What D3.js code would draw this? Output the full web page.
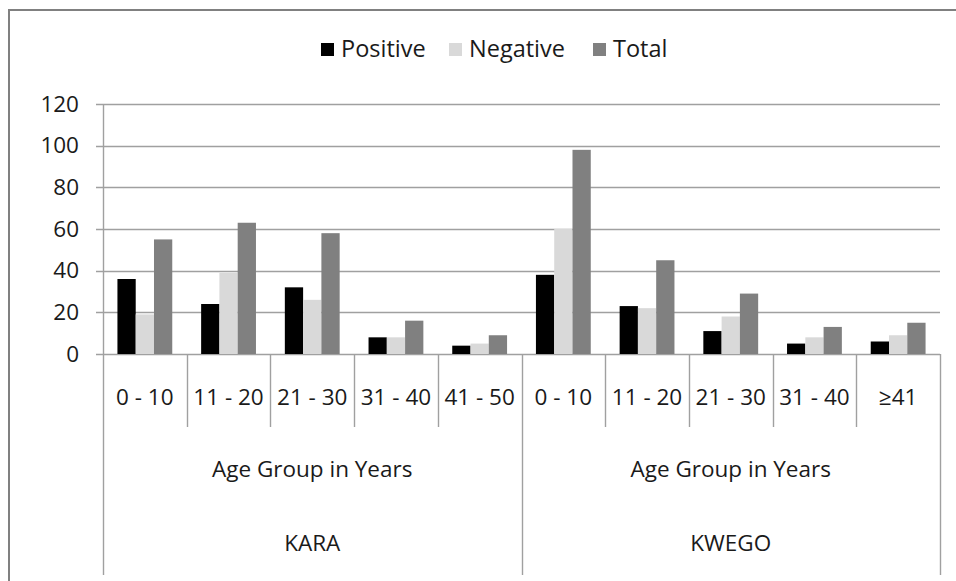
<!DOCTYPE html>
<html>
<head>
<meta charset="utf-8">
<script src="https://cdn.jsdelivr.net/npm/d3@7"></script>
<style>
  body { margin: 0; background: #fff; }
  text { font-family: "Open Sans", sans-serif; fill: #1a1a1a; }
</style>
</head>
<body>
<svg id="chart" width="956" height="581"></svg>
<script>
// values
const sites = ["KARA", "KWEGO"];
const ageGroups = [
  ["0 - 10", "11 - 20", "21 - 30", "31 - 40", "41 - 50"],
  ["0 - 10", "11 - 20", "21 - 30", "31 - 40", "≥41"]
];
const seriesNames = ["Positive", "Negative", "Total"];
const positive = [36, 24, 32, 8, 4, 38, 23, 11, 5, 6];
const negative = [19, 39, 26, 8, 5, 60, 22, 18, 8, 9];
const total = [55, 63, 58, 16, 9, 98, 45, 29, 13, 15];
const yTicks = [0, 20, 40, 60, 80, 100, 120];
const colors = ["#000000", "#d9d9d9", "#808080"];

// one row per category, built from the arrays above
const rows = [];
sites.forEach((site, s) => {
  ageGroups[s].forEach((age, a) => {
    const i = rows.length;
    rows.push({ id: i, site: site, age: age, values: [positive[i], negative[i], total[i]] });
  });
});

const plot = { left: 103, right: 940, top: 104, bottom: 354 };
const fontSize = 22.5;
const svg = d3.select("#chart");

// chart frame (cropped on right and bottom like the source image)
svg.append("rect")
  .attr("x", 9).attr("y", 10)
  .attr("width", 1000).attr("height", 1000)
  .attr("fill", "none")
  .attr("stroke", "#808080")
  .attr("stroke-width", 2);

const x = d3.scaleBand()
  .domain(rows.map((d) => d.id))
  .range([plot.left, plot.right])
  .padding(0);

const x1 = d3.scaleBand()
  .domain(seriesNames)
  .range([0, x.bandwidth()])
  .paddingInner(0)
  .paddingOuter(0.79);

const y = d3.scaleLinear().domain([0, 120]).range([plot.bottom, plot.top]);

// gridlines
svg.append("g")
  .selectAll("line")
  .data(yTicks)
  .join("line")
  .attr("x1", plot.left - 7)
  .attr("x2", plot.right)
  .attr("y1", (d) => Math.round(y(d)) + 0.5)
  .attr("y2", (d) => Math.round(y(d)) + 0.5)
  .attr("stroke", "#a0a0a0")
  .attr("stroke-width", 1.4);

// y axis labels
const yAxis = d3.axisLeft(y).tickValues(yTicks).tickSize(0).tickPadding(24);
const gy = svg.append("g")
  .attr("transform", `translate(${plot.left},0)`)
  .call(yAxis);
gy.select(".domain").remove();
gy.selectAll("text")
  .attr("font-family", "Open Sans, sans-serif")
  .attr("font-size", fontSize)
  .attr("fill", "#1a1a1a");

// bars
const groups = svg.append("g")
  .selectAll("g")
  .data(rows)
  .join("g")
  .attr("transform", (d) => `translate(${x(d.id)},0)`);

groups.selectAll("rect")
  .data((d) => d.values.map((v, k) => ({ key: seriesNames[k], value: v, k: k })))
  .join("rect")
  .attr("x", (d) => x1(d.key))
  .attr("width", x1.bandwidth())
  .attr("y", (d) => y(d.value))
  .attr("height", (d) => y(0) - y(d.value))
  .attr("fill", (d) => colors[d.k]);

// vertical axis line and category separators
const axisColor = "#a0a0a0";
const boundaries = d3.range(rows.length + 1).map((i) => plot.left + i * x.step());
const siteEdges = [0, ageGroups[0].length, rows.length];

svg.append("g")
  .selectAll("line")
  .data(boundaries)
  .join("line")
  .attr("x1", (d) => Math.round(d) + 0.5)
  .attr("x2", (d) => Math.round(d) + 0.5)
  .attr("y1", (d, i) => (i === 0 ? plot.top : plot.bottom))
  .attr("y2", (d, i) => (siteEdges.includes(i) ? 575 : 427))
  .attr("stroke", axisColor)
  .attr("stroke-width", 1.4);

// category labels
svg.append("g")
  .selectAll("text")
  .data(rows)
  .join("text")
  .attr("x", (d) => x(d.id) + x.bandwidth() / 2)
  .attr("y", 405)
  .attr("text-anchor", "middle")
  .attr("font-size", fontSize)
  .text((d) => d.age);

// site level labels
const siteX = (s) => (boundaries[siteEdges[s]] + boundaries[siteEdges[s + 1]]) / 2;
sites.forEach((site, s) => {
  svg.append("text")
    .attr("x", siteX(s))
    .attr("y", 477)
    .attr("text-anchor", "middle")
    .attr("font-size", fontSize)
    .text("Age Group in Years");
  svg.append("text")
    .attr("x", siteX(s))
    .attr("y", 551)
    .attr("text-anchor", "middle")
    .attr("font-size", fontSize)
    .text(site);
});

// legend
const legendX = [321, 449, 593];
const legend = svg.append("g")
  .selectAll("g")
  .data(seriesNames)
  .join("g")
  .attr("transform", (d, i) => `translate(${legendX[i]},43)`);
legend.append("rect")
  .attr("width", 13)
  .attr("height", 13)
  .attr("fill", (d, i) => colors[i]);
legend.append("text")
  .attr("x", 20)
  .attr("y", 14)
  .attr("font-size", 23.5)
  .text((d) => d);
</script>
</body>
</html>
